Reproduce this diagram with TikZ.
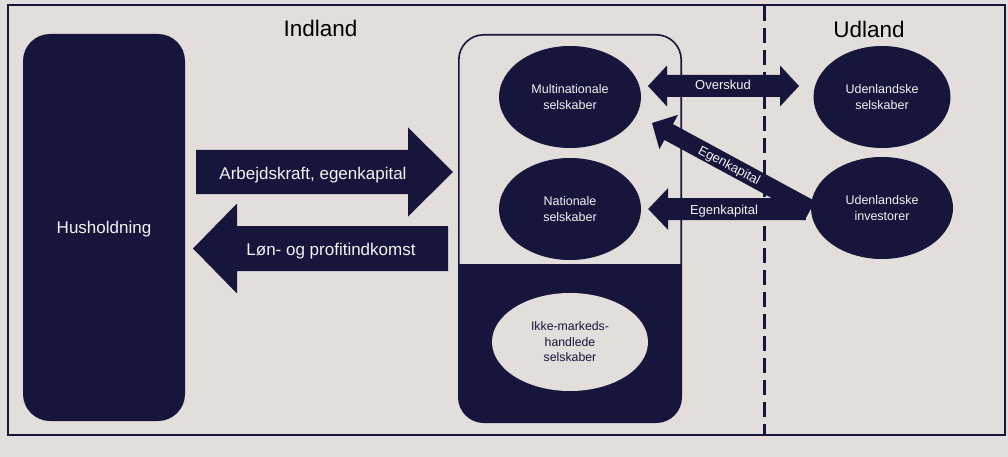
\documentclass[tikz,border=0pt]{standalone}
\usepackage{fontspec}
\setmainfont{Liberation Sans}
\usetikzlibrary{calc,shapes.geometric}
\definecolor{navy}{HTML}{16163C}
\definecolor{bgc}{HTML}{E3DDDB}
\definecolor{wtxt}{HTML}{F2F2F2}
\newcommand\blkarrow[5]{%
  \path ($(#2)!#5!(#1)$) coordinate (bkH);
  \fill[navy] ($(#1)!#3!90:(#2)$) -- ($(bkH)!#3!90:(#2)$) -- ($(bkH)!#4!90:(#2)$) -- (#2)
    -- ($(bkH)!#4!-90:(#2)$) -- ($(bkH)!#3!-90:(#2)$) -- ($(#1)!#3!-90:(#2)$) -- cycle;}
\newcommand\dblarrow[5]{%
  \path ($(#1)!#5!(#2)$) coordinate (dbH1) ($(#2)!#5!(#1)$) coordinate (dbH2);
  \fill[navy] (#1) -- ($(dbH1)!#4!90:(#2)$) -- ($(dbH1)!#3!90:(#2)$) -- ($(dbH2)!#3!-90:(#1)$)
    -- ($(dbH2)!#4!-90:(#1)$) -- (#2) -- ($(dbH2)!#4!90:(#1)$) -- ($(dbH2)!#3!90:(#1)$)
    -- ($(dbH1)!#3!-90:(#2)$) -- ($(dbH1)!#4!-90:(#2)$) -- cycle;}
\begin{document}
\begin{tikzpicture}[x=1pt,y=-1pt,
  ell/.style={ellipse, fill=navy, text=wtxt, inner sep=0pt, align=center,
    minimum width=142pt, minimum height=102pt, font=\fontsize{12.5}{16}\selectfont},
  lbl/.style={anchor=base, text=wtxt, inner sep=0pt},
  biglbl/.style={lbl, font=\fontsize{17}{20}\selectfont},
  smalllbl/.style={lbl, font=\fontsize{13}{16}\selectfont},
  title/.style={anchor=base, text=black, inner sep=0pt, font=\fontsize{22.5}{26}\selectfont}]
\fill[bgc] (0,0) rectangle (1008,457);
\useasboundingbox (0,0) rectangle (1008,457);
\draw[navy, line width=2pt] (8,5) rectangle (1005,435);
\draw[navy, line width=3pt, dash pattern=on 15pt off 7pt] (764,6) -- (764,434);
\node[title] (tin) at (320.5,37) {Indland};
\node[title] (tud) at (869,38) {Udland};
% Husholdning
\node[rectangle, rounded corners=27pt, fill=navy, text=wtxt, minimum width=162pt,
  minimum height=387pt, text depth=0pt, font=\fontsize{17}{20}\selectfont] (hus) at (104,227.5) {Husholdning};
% container
\node[rectangle, rounded corners=25pt, minimum width=222pt, minimum height=387pt, inner sep=0pt] (cont) at (570,228.5) {};
\begin{scope}
  \clip[rounded corners=25pt] (cont.north west) rectangle (cont.south east);
  \fill[navy] (cont.west |- 0,264) rectangle (cont.south east);
\end{scope}
\draw[navy, line width=1.6pt, rounded corners=25pt] (cont.north west) rectangle (cont.south east);
% ellipses
\node[ell] (multi) at (570,97) {Multinationale\\selskaber};
\node[ell] (nat) at (570,209) {Nationale\\selskaber};
\node[ell, fill=bgc, text=navy, minimum width=156pt, minimum height=98pt,
  font=\fontsize{12.3}{15.5}\selectfont] (ikke) at (570,342) {Ikke-markeds-\\handlede\\selskaber};
\node[ell, minimum width=137pt] (udsel) at (882,97) {Udenlandske\\selskaber};
\node[ell] (udinv) at (882,208) {Udenlandske\\investorer};
% arrow end points
\coordinate (arbA) at (196,172);
\coordinate (arbB) at (453,172);
\coordinate (lonA) at (448,248.5);
\coordinate (lonB) at (193,248.5);
\coordinate (ovA) at (648,86);
\coordinate (ovB) at (799,86);
\coordinate (eg1A) at ($(udinv.west)+(-5,1)$);
\coordinate (eg1B) at ($(nat.east)+(7,0)$);
\coordinate (eg2A) at ($(udinv.west)+(0,1)$);
\coordinate (eg2B) at (652,123);
\blkarrow{arbA}{arbB}{22pt}{44.5pt}{45pt}
\blkarrow{lonA}{lonB}{22.5pt}{45pt}{44pt}
\dblarrow{ovA}{ovB}{11pt}{20.5pt}{19pt}
\blkarrow{eg1A}{eg1B}{11pt}{21pt}{20pt}
\blkarrow{eg2A}{eg2B}{9pt}{19.5pt}{19pt}
% labels
\node[biglbl] (larb) at (313,179) {Arbejdskraft, egenkapital};
\node[biglbl] (llon) at (331,255) {Løn- og profitindkomst};
\node[smalllbl] (lov) at (723,90) {Overskud};
\node[smalllbl] (leg1) at (724,214) {Egenkapital};
\node[text=wtxt, inner sep=0pt, rotate=-28, font=\fontsize{13}{16}\selectfont] (leg2) at (729,166) {Egenkapital};
\end{tikzpicture}
\end{document}
